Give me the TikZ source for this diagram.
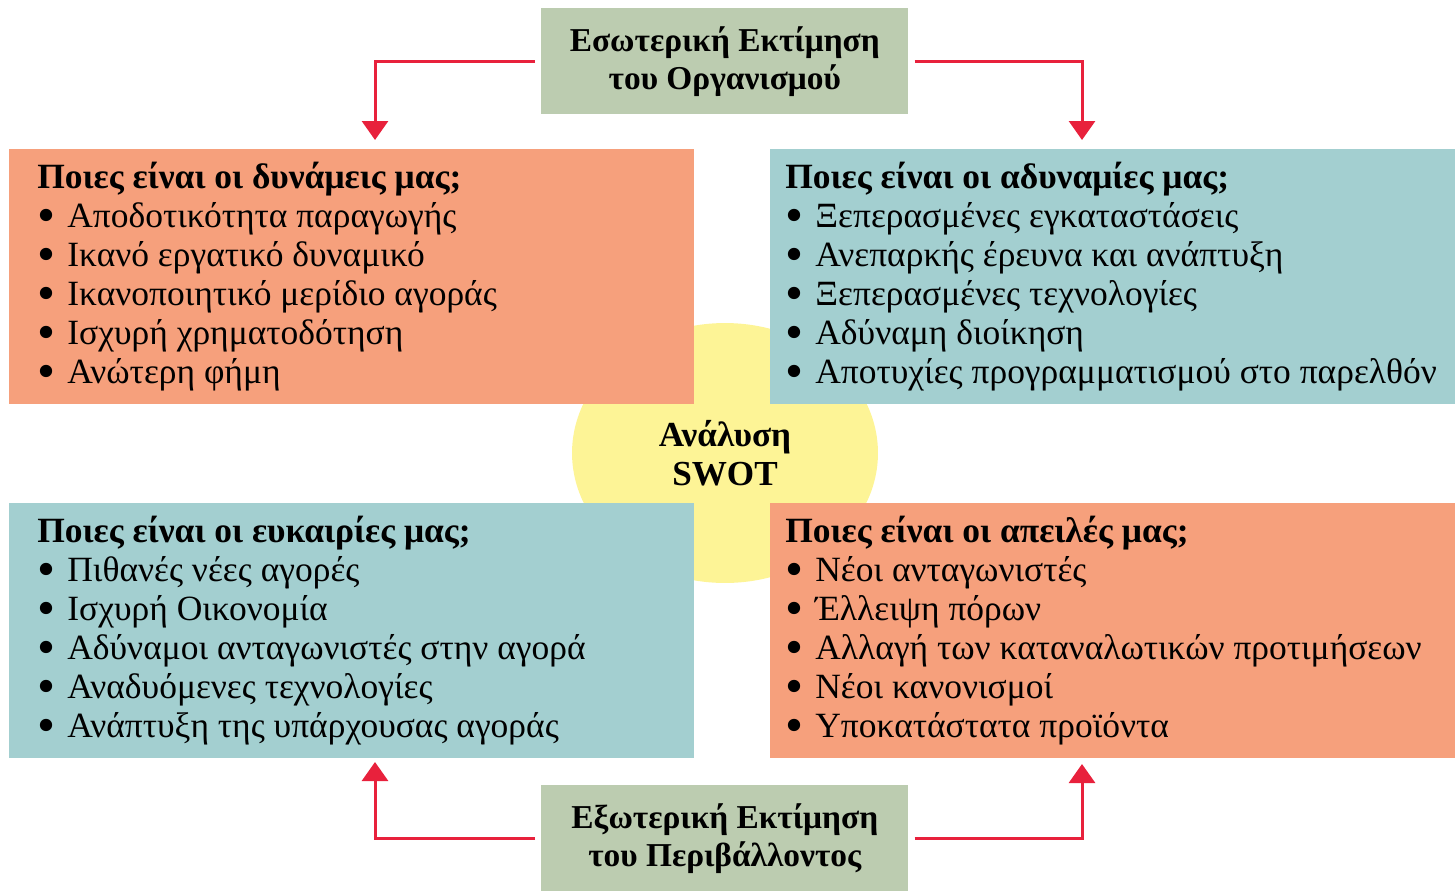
\documentclass[tikz,border=0pt]{standalone}
\usepackage{fontspec}
\setmainfont{Liberation Serif}
\usetikzlibrary{positioning, arrows.meta, shapes.geometric}

\definecolor{swotorange}{HTML}{F6A07C}
\definecolor{swotteal}{HTML}{A3CFD0}
\definecolor{swotgreen}{HTML}{BCCCB0}
\definecolor{swotyellow}{HTML}{FDF496}
\definecolor{swotred}{HTML}{E8213C}

\newcommand{\itm}{\makebox[0.6cm][l]{\raisebox{-0.13em}[0.5em][0pt]{\scalebox{1.45}{\textbullet}}}}

\begin{document}
\begin{tikzpicture}[
    x = 0.02cm, y = -0.02cm,
    quadbox/.style = {
      rectangle, anchor = north west, inner sep = 0pt,
      minimum width = 13.7cm, minimum height = 5.1cm
    },
    listtext/.style = {
      anchor = west, align = left, inner sep = 0pt,
      font = \fontsize{20.2}{22.2}\selectfont
    },
    evalbox/.style = {
      rectangle, fill = swotgreen, anchor = north west, inner sep = 0pt,
      minimum width = 7.34cm, minimum height = 2.12cm, align = center,
      font = \fontsize{19}{21.6}\selectfont\bfseries
    },
    arr/.style = {-{Triangle[width=0.52cm, length=0.38cm]}, line width = 0.06cm, draw = swotred}
  ]
  \useasboundingbox (0,0) rectangle (1456,890);

  % Κέντρο
  \node[ellipse, fill = swotyellow, minimum width = 6.12cm, minimum height = 5.2cm,
        align = center, font = \fontsize{20}{22}\selectfont\bfseries]
        (swot) at (725,453) {Ανάλυση\\SWOT};

  % Τεταρτημόρια
  \node[quadbox, fill = swotorange] (str) at (9,149) {};
  \node[quadbox, fill = swotteal]   (wea) at (770,149) {};
  \node[quadbox, fill = swotteal]   (opp) at (9,503) {};
  \node[quadbox, fill = swotorange] (thr) at (770,503) {};

  \node[listtext] at ([xshift=0.56cm]str.west) {%
    \textbf{Ποιες είναι οι δυνάμεις μας;}\\
    \itm Αποδοτικότητα παραγωγής\\
    \itm Ικανό εργατικό δυναμικό\\
    \itm Ικανοποιητικό μερίδιο αγοράς\\
    \itm Ισχυρή χρηματοδότηση\\
    \itm Ανώτερη φήμη};
  \node[listtext] at ([xshift=0.3cm]wea.west) {%
    \textbf{Ποιες είναι οι αδυναμίες μας;}\\
    \itm Ξεπερασμένες εγκαταστάσεις\\
    \itm Ανεπαρκής έρευνα και ανάπτυξη\\
    \itm Ξεπερασμένες τεχνολογίες\\
    \itm Αδύναμη διοίκηση\\
    \itm Αποτυχίες προγραμματισμού στο παρελθόν};
  \node[listtext] at ([xshift=0.56cm]opp.west) {%
    \textbf{Ποιες είναι οι ευκαιρίες μας;}\\
    \itm Πιθανές νέες αγορές\\
    \itm Ισχυρή Οικονομία\\
    \itm Αδύναμοι ανταγωνιστές στην αγορά\\
    \itm Αναδυόμενες τεχνολογίες\\
    \itm Ανάπτυξη της υπάρχουσας αγοράς};
  \node[listtext] at ([xshift=0.3cm]thr.west) {%
    \textbf{Ποιες είναι οι απειλές μας;}\\
    \itm Νέοι ανταγωνιστές\\
    \itm Έλλειψη πόρων\\
    \itm Αλλαγή των καταναλωτικών προτιμήσεων\\
    \itm Νέοι κανονισμοί\\
    \itm Υποκατάστατα προϊόντα};

  % Εκτιμήσεις
  \node[evalbox] (int) at (541,8)   {Εσωτερική Εκτίμηση\\του Οργανισμού};
  \node[evalbox] (ext) at (541,785) {Εξωτερική Εκτίμηση\\του Περιβάλλοντος};

  % Άκρα βελών
  \coordinate (str-in) at (375,140);
  \coordinate (wea-in) at (1082,140);
  \coordinate (opp-in) at (375,762);
  \coordinate (thr-in) at (1082,764);

  % Βέλη
  \draw[arr] ([xshift=-0.12cm]int.west) -| (str-in);
  \draw[arr] ([xshift=0.12cm]int.east)  -| (wea-in);
  \draw[arr] ([xshift=-0.12cm]ext.west) -| (opp-in);
  \draw[arr] ([xshift=0.12cm]ext.east)  -| (thr-in);
\end{tikzpicture}
\end{document}
